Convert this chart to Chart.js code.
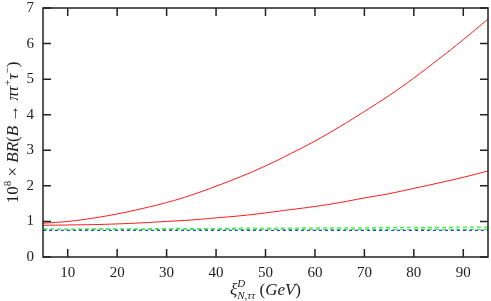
<!DOCTYPE html>
<html>
<head>
<meta charset="utf-8">
<script src="https://cdn.jsdelivr.net/npm/chart.js@4.4.1/dist/chart.umd.min.js"></script>
<style>
  html, body { margin: 0; padding: 0; background: #fff; }
  #wrap { width: 491px; height: 301px; }
</style>
</head>
<body>
<div id="wrap"><canvas id="c" width="491" height="301"></canvas></div>
<script>
// valeurs
const xVals = [5, 10, 15, 20, 25, 30, 35, 40, 45, 50, 55, 60, 65, 70, 75, 80, 85, 90, 95];
const redUpper = [0.95, 1.0, 1.09, 1.21, 1.36, 1.53, 1.74, 1.99, 2.26, 2.56, 2.9, 3.26, 3.66, 4.09, 4.54, 5.03, 5.56, 6.11, 6.69];
const redLower = [0.89, 0.9, 0.91, 0.93, 0.96, 1.0, 1.04, 1.1, 1.16, 1.24, 1.33, 1.42, 1.53, 1.66, 1.78, 1.93, 2.08, 2.24, 2.42];
const greenUpper = [0.78, 0.78, 0.79, 0.79, 0.79, 0.8, 0.8, 0.8, 0.81, 0.81, 0.81, 0.82, 0.82, 0.82, 0.83, 0.83, 0.83, 0.84, 0.84];
const greenLower = [0.775, 0.775, 0.775, 0.775, 0.775, 0.775, 0.775, 0.775, 0.775, 0.775, 0.775, 0.775, 0.775, 0.775, 0.775, 0.775, 0.775, 0.775, 0.775];
const blueLine = [0.75, 0.75, 0.75, 0.75, 0.75, 0.75, 0.75, 0.75, 0.75, 0.75, 0.75, 0.75, 0.75, 0.75, 0.75, 0.75, 0.75, 0.75, 0.75];
const xTicks = [10, 20, 30, 40, 50, 60, 70, 80, 90];
const yTicks = [0, 1, 2, 3, 4, 5, 6, 7];

const SERIF = '"Liberation Serif", "Times New Roman", serif';

function pts(ys) {
  return xVals.map((x, i) => ({ x, y: ys[i] }));
}

// texte avec indices / exposants
function drawRich(ctx, parts, cx, cy) {
  let total = 0, keepW = 0;
  parts.forEach(p => {
    ctx.font = `${p.it ? 'italic ' : ''}${p.sz}px ${SERIF}`;
    const w = ctx.measureText(p.t).width;
    if (p.keep) { keepW = w; return; }
    total += Math.max(w, keepW);
    keepW = 0;
  });
  let x = cx - total / 2;
  keepW = 0;
  parts.forEach(p => {
    ctx.font = `${p.it ? 'italic ' : ''}${p.sz}px ${SERIF}`;
    const w = ctx.measureText(p.t).width;
    ctx.fillText(p.t, x, cy + (p.dy || 0));
    if (p.keep) { keepW = w; return; }
    x += Math.max(w, keepW);
    keepW = 0;
  });
}

const framePlugin = {
  id: 'frame',
  afterDatasetsDraw(chart) {
    const { ctx, chartArea: a, scales } = chart;
    ctx.save();
    ctx.strokeStyle = '#222';
    ctx.lineWidth = 1.5;
    ctx.strokeRect(a.left, a.top, a.right - a.left, a.bottom - a.top);
    const len = 8;
    ctx.beginPath();
    yTicks.forEach(v => {
      const y = scales.y.getPixelForValue(v);
      ctx.moveTo(a.left, y); ctx.lineTo(a.left + len, y);
      ctx.moveTo(a.right, y); ctx.lineTo(a.right - len, y);
    });
    xTicks.forEach(v => {
      const x = scales.x.getPixelForValue(v);
      ctx.moveTo(x, a.bottom); ctx.lineTo(x, a.bottom - len);
      ctx.moveTo(x, a.top); ctx.lineTo(x, a.top + len);
    });
    ctx.stroke();

    // étiquettes des graduations
    ctx.fillStyle = '#222';
    ctx.font = `15px ${SERIF}`;
    ctx.textAlign = 'center';
    ctx.textBaseline = 'alphabetic';
    xTicks.forEach(v => ctx.fillText(String(v), scales.x.getPixelForValue(v), a.bottom + 20));
    ctx.textAlign = 'right';
    ctx.textBaseline = 'middle';
    yTicks.forEach(v => ctx.fillText(String(v), a.left - 9, scales.y.getPixelForValue(v)));

    // titres des axes
    ctx.textBaseline = 'alphabetic';
    ctx.textAlign = 'left';
    drawRich(ctx, [
      { t: 'ξ', it: true, sz: 17 },
      { t: 'D', it: true, sz: 11, dy: -8, keep: true },
      { t: 'N,ττ', it: true, sz: 11, dy: 4 },
      { t: ' (', sz: 17 },
      { t: 'GeV', it: true, sz: 17 },
      { t: ')', sz: 17 }
    ], (a.left + a.right) / 2, 295);

    ctx.translate(18, (a.top + a.bottom) / 2);
    ctx.rotate(-Math.PI / 2);
    drawRich(ctx, [
      { t: '10', sz: 17 },
      { t: '8', sz: 11, dy: -7 },
      { t: ' × ', sz: 17 },
      { t: 'BR', it: true, sz: 17 },
      { t: '(', sz: 17 },
      { t: 'B', it: true, sz: 17 },
      { t: ' → ', sz: 17 },
      { t: 'πτ', it: true, sz: 17 },
      { t: '+', sz: 11, dy: -7 },
      { t: 'τ', it: true, sz: 17 },
      { t: '−', sz: 11, dy: -7 },
      { t: ')', sz: 17 }
    ], 0, 0);
    ctx.restore();
  }
};

// order : plus petit = dessiné au-dessus
const line = (data, color, dash, order, width) => ({
  data: pts(data),
  borderColor: color,
  borderWidth: width || 1,
  borderDash: dash || [],
  pointRadius: 0,
  fill: false,
  tension: 0.4,
  order
});

new Chart(document.getElementById('c'), {
  type: 'line',
  data: {
    datasets: [
      line(redUpper, '#ff1a1a', null, 0),
      line(redLower, '#ff1a1a', null, 0),
      line(greenUpper, '#44ee44', [4, 3], 2, 1.3),
      line(greenLower, '#44ee44', [4, 3], 2, 1.3),
      line(blueLine, '#1f3fff', [3, 3], 1, 1.3)
    ]
  },
  options: {
    responsive: false,
    animation: false,
    layout: { padding: { top: 8, right: 3 } },
    plugins: { legend: { display: false }, tooltip: { enabled: false } },
    scales: {
      x: {
        type: 'linear', min: 5, max: 95,
        afterBuildTicks: s => { s.ticks = xTicks.map(v => ({ value: v })); },
        afterFit: s => { s.height = 44; },
        grid: { display: false, drawTicks: false },
        border: { display: false },
        ticks: { display: false }
      },
      y: {
        min: 0, max: 7,
        afterBuildTicks: s => { s.ticks = yTicks.map(v => ({ value: v })); },
        afterFit: s => { s.width = 43; },
        grid: { display: false, drawTicks: false },
        border: { display: false },
        ticks: { display: false }
      }
    }
  },
  plugins: [framePlugin]
});
</script>
</body>
</html>
